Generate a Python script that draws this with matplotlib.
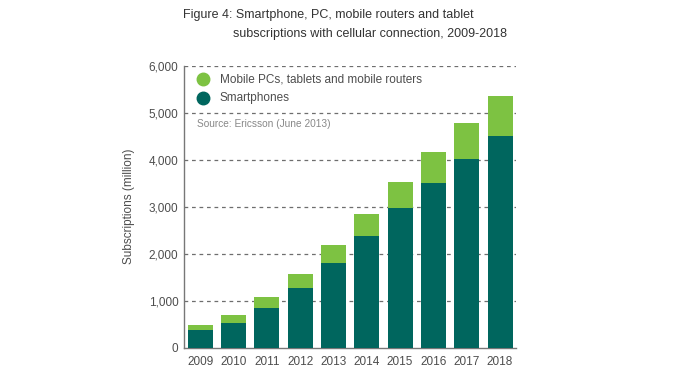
import matplotlib
matplotlib.use("Agg")
import matplotlib.pyplot as plt
from matplotlib.lines import Line2D

years = ["2009", "2010", "2011", "2012", "2013", "2014", "2015", "2016", "2017", "2018"]
smartphones = [375, 525, 845, 1270, 1800, 2370, 2970, 3510, 4010, 4510]
mobile_pcs = [105, 170, 235, 295, 380, 470, 545, 650, 770, 845]
yticks = [0, 1000, 2000, 3000, 4000, 5000, 6000]
ytick_labels = ["0", "1,000", "2,000", "3,000", "4,000", "5,000", "6,000"]

DARK = "#00665E"
LIGHT = "#7DC242"
TXT = "#4D4D4D"
GRID = "#6E6E6E"

plt.rcParams['font.family'] = ['Liberation Sans', 'DejaVu Sans']

W, H = 700, 377
fig = plt.figure(figsize=(7, 3.77), dpi=100)
ax = fig.add_axes([184 / W, 1 - 347.7 / H, (516 - 184) / W, (347.7 - 65.7) / H])

x = list(range(len(years)))
ax.bar(x, smartphones, width=0.75, color=DARK, zorder=3)
ax.bar(x, mobile_pcs, bottom=smartphones, width=0.75, color=LIGHT, zorder=3)

ax.set_xlim(-0.49, 9.48)
ax.set_ylim(0, 6000)
ax.set_yticks(yticks)
ax.set_yticklabels(ytick_labels)
ax.set_xticks(x)
ax.set_xticklabels(years)
ax.tick_params(axis='both', length=0, labelsize=8.5, colors=TXT)
ax.tick_params(axis='x', pad=6)
ax.tick_params(axis='y', pad=4)
for t in yticks[1:]:
    ax.axhline(t, color=GRID, lw=0.9, ls=(0, (3, 3)), zorder=1)
for s in ['top', 'right']:
    ax.spines[s].set_visible(False)
for s in ['left', 'bottom']:
    ax.spines[s].set_color('#777777')
    ax.spines[s].set_linewidth(1.0)
ax.set_ylabel("Subscriptions (million)", fontsize=8.5, color=TXT, labelpad=10)

# legend
def fx(px):
    return px / W

def fy(py):
    return 1 - py / H

for py, col, label in [(79.3, LIGHT, "Mobile PCs, tablets and mobile routers"),
                       (98.3, DARK, "Smartphones")]:
    fig.add_artist(Line2D([fx(202.7)], [fy(py)], marker='o', markersize=9,
                          color=col, linestyle='none', transform=fig.transFigure))
    fig.text(fx(220), fy(py), label, fontsize=8.5, color=TXT, va='center', ha='left')

fig.text(fx(197), fy(124.3), "Source: Ericsson (June 2013)", fontsize=7.3,
         color='#888888', va='center', ha='left')

fig.text(fx(183), fy(15), "Figure 4: Smartphone, PC, mobile routers and tablet",
         fontsize=9, color='#333333', va='center', ha='left')
fig.text(fx(233), fy(34), "subscriptions with cellular connection, 2009-2018",
         fontsize=9, color='#333333', va='center', ha='left')

fig.savefig("out.png", dpi=100)
